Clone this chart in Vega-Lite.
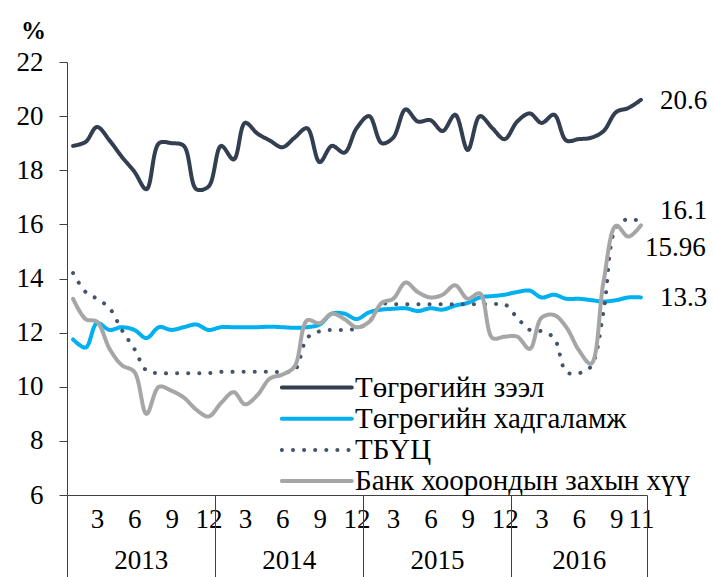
{
  "$schema": "https://vega.github.io/schema/vega-lite/v6.json",
  "width": 580,
  "height": 433,
  "autosize": "none",
  "padding": {"left": 67, "top": 62, "right": 66, "bottom": 82},
  "config": {"view": {"stroke": null}, "font": "Liberation Serif"},
  "data": {"values": [
    {"d":"2013-01-16","Төгрөгийн зээл":18.9,"Төгрөгийн хадгаламж":11.75,"ТБҮЦ":14.2,"Банк хоорондын захын хүү":13.25},
    {"d":"2013-02-16","Төгрөгийн зээл":19.05,"Төгрөгийн хадгаламж":11.45,"ТБҮЦ":13.5,"Банк хоорондын захын хүү":12.5},
    {"d":"2013-03-16","Төгрөгийн зээл":19.6,"Төгрөгийн хадгаламж":12.35,"ТБҮЦ":13.25,"Банк хоорондын захын хүү":12.4},
    {"d":"2013-04-16","Төгрөгийн зээл":19.1,"Төгрөгийн хадгаламж":12.1,"ТБҮЦ":12.9,"Банк хоорондын захын хүү":11.4},
    {"d":"2013-05-16","Төгрөгийн зээл":18.5,"Төгрөгийн хадгаламж":12.2,"ТБҮЦ":12.1,"Банк хоорондын захын хүү":10.8},
    {"d":"2013-06-16","Төгрөгийн зээл":17.95,"Төгрөгийн хадгаламж":12.1,"ТБҮЦ":11.4,"Банк хоорондын захын хүү":10.55},
    {"d":"2013-07-16","Төгрөгийн зээл":17.3,"Төгрөгийн хадгаламж":11.8,"ТБҮЦ":10.6,"Банк хоорондын захын хүү":9.0},
    {"d":"2013-08-16","Төгрөгийн зээл":19.0,"Төгрөгийн хадгаламж":12.2,"ТБҮЦ":10.5,"Банк хоорондын захын хүү":10.0},
    {"d":"2013-09-16","Төгрөгийн зээл":19.0,"Төгрөгийн хадгаламж":12.1,"ТБҮЦ":10.5,"Банк хоорондын захын хүү":9.85},
    {"d":"2013-10-16","Төгрөгийн зээл":18.9,"Төгрөгийн хадгаламж":12.2,"ТБҮЦ":10.5,"Банк хоорондын захын хүү":9.6},
    {"d":"2013-11-16","Төгрөгийн зээл":17.3,"Төгрөгийн хадгаламж":12.3,"ТБҮЦ":10.5,"Банк хоорондын захын хүү":9.15},
    {"d":"2013-12-16","Төгрөгийн зээл":17.4,"Төгрөгийн хадгаламж":12.1,"ТБҮЦ":10.5,"Банк хоорондын захын хүү":8.9},
    {"d":"2014-01-16","Төгрөгийн зээл":18.9,"Төгрөгийн хадгаламж":12.2,"ТБҮЦ":10.55,"Банк хоорондын захын хүү":9.4},
    {"d":"2014-02-16","Төгрөгийн зээл":18.4,"Төгрөгийн хадгаламж":12.2,"ТБҮЦ":10.55,"Банк хоорондын захын хүү":9.8},
    {"d":"2014-03-16","Төгрөгийн зээл":19.75,"Төгрөгийн хадгаламж":12.2,"ТБҮЦ":10.55,"Банк хоорондын захын хүү":9.35},
    {"d":"2014-04-16","Төгрөгийн зээл":19.35,"Төгрөгийн хадгаламж":12.2,"ТБҮЦ":10.55,"Банк хоорондын захын хүү":9.7},
    {"d":"2014-05-16","Төгрөгийн зээл":19.1,"Төгрөгийн хадгаламж":12.22,"ТБҮЦ":10.55,"Банк хоорондын захын хүү":10.3},
    {"d":"2014-06-16","Төгрөгийн зээл":18.85,"Төгрөгийн хадгаламж":12.2,"ТБҮЦ":10.55,"Банк хоорондын захын хүү":10.45},
    {"d":"2014-07-16","Төгрөгийн зээл":19.2,"Төгрөгийн хадгаламж":12.18,"ТБҮЦ":10.6,"Банк хоорондын захын хүү":10.75},
    {"d":"2014-08-16","Төгрөгийн зээл":19.55,"Төгрөгийн хадгаламж":12.2,"ТБҮЦ":11.8,"Банк хоорондын захын хүү":12.45},
    {"d":"2014-09-16","Төгрөгийн зээл":18.3,"Төгрөгийн хадгаламж":12.3,"ТБҮЦ":12.05,"Банк хоорондын захын хүү":12.35},
    {"d":"2014-10-16","Төгрөгийн зээл":18.9,"Төгрөгийн хадгаламж":12.7,"ТБҮЦ":12.1,"Банк хоорондын захын хүү":12.7},
    {"d":"2014-11-16","Төгрөгийн зээл":18.65,"Төгрөгийн хадгаламж":12.7,"ТБҮЦ":12.1,"Банк хоорондын захын хүү":12.5},
    {"d":"2014-12-16","Төгрөгийн зээл":19.55,"Төгрөгийн хадгаламж":12.5,"ТБҮЦ":12.15,"Банк хоорондын захын хүү":12.2},
    {"d":"2015-01-16","Төгрөгийн зээл":20.0,"Төгрөгийн хадгаламж":12.75,"ТБҮЦ":12.4,"Банк хоорондын захын хүү":12.4},
    {"d":"2015-02-16","Төгрөгийн зээл":19.0,"Төгрөгийн хадгаламж":12.85,"ТБҮЦ":13.05,"Банк хоорондын захын хүү":13.1},
    {"d":"2015-03-16","Төгрөгийн зээл":19.2,"Төгрөгийн хадгаламж":12.88,"ТБҮЦ":13.05,"Банк хоорондын захын хүү":13.25},
    {"d":"2015-04-16","Төгрөгийн зээл":20.25,"Төгрөгийн хадгаламж":12.9,"ТБҮЦ":13.05,"Банк хоорондын захын хүү":13.85},
    {"d":"2015-05-16","Төгрөгийн зээл":19.8,"Төгрөгийн хадгаламж":12.8,"ТБҮЦ":13.05,"Банк хоорондын захын хүү":13.5},
    {"d":"2015-06-16","Төгрөгийн зээл":19.85,"Төгрөгийн хадгаламж":12.9,"ТБҮЦ":13.05,"Банк хоорондын захын хүү":13.3},
    {"d":"2015-07-16","Төгрөгийн зээл":19.45,"Төгрөгийн хадгаламж":12.85,"ТБҮЦ":13.05,"Банк хоорондын захын хүү":13.4},
    {"d":"2015-08-16","Төгрөгийн зээл":20.05,"Төгрөгийн хадгаламж":13.0,"ТБҮЦ":13.05,"Банк хоорондын захын хүү":13.75},
    {"d":"2015-09-16","Төгрөгийн зээл":18.75,"Төгрөгийн хадгаламж":13.1,"ТБҮЦ":13.05,"Банк хоорондын захын хүү":13.25},
    {"d":"2015-10-16","Төгрөгийн зээл":20.0,"Төгрөгийн хадгаламж":13.3,"ТБҮЦ":13.05,"Банк хоорондын захын хүү":13.45},
    {"d":"2015-11-16","Төгрөгийн зээл":19.55,"Төгрөгийн хадгаламж":13.35,"ТБҮЦ":13.05,"Банк хоорондын захын хүү":11.8},
    {"d":"2015-12-16","Төгрөгийн зээл":19.15,"Төгрөгийн хадгаламж":13.4,"ТБҮЦ":13.05,"Банк хоорондын захын хүү":11.85},
    {"d":"2016-01-16","Төгрөгийн зээл":19.8,"Төгрөгийн хадгаламж":13.5,"ТБҮЦ":12.55,"Банк хоорондын захын хүү":11.85},
    {"d":"2016-02-16","Төгрөгийн зээл":20.1,"Төгрөгийн хадгаламж":13.55,"ТБҮЦ":12.1,"Банк хоорондын захын хүү":11.4},
    {"d":"2016-03-16","Төгрөгийн зээл":19.75,"Төгрөгийн хадгаламж":13.3,"ТБҮЦ":12.05,"Банк хоорондын захын хүү":12.55},
    {"d":"2016-04-16","Төгрөгийн зээл":20.05,"Төгрөгийн хадгаламж":13.4,"ТБҮЦ":11.8,"Банк хоорондын захын хүү":12.65},
    {"d":"2016-05-16","Төгрөгийн зээл":19.1,"Төгрөгийн хадгаламж":13.25,"ТБҮЦ":10.55,"Банк хоорондын захын хүү":12.2},
    {"d":"2016-06-16","Төгрөгийн зээл":19.15,"Төгрөгийн хадгаламж":13.25,"ТБҮЦ":10.5,"Банк хоорондын захын хүү":11.35},
    {"d":"2016-07-16","Төгрөгийн зээл":19.2,"Төгрөгийн хадгаламж":13.2,"ТБҮЦ":10.75,"Банк хоорондын захын хүү":10.85},
    {"d":"2016-08-16","Төгрөгийн зээл":19.45,"Төгрөгийн хадгаламж":13.15,"ТБҮЦ":12.8,"Банк хоорондын захын хүү":13.9},
    {"d":"2016-09-16","Төгрөгийн зээл":20.15,"Төгрөгийн хадгаламж":13.2,"ТБҮЦ":15.9,"Банк хоорондын захын хүү":15.95},
    {"d":"2016-10-16","Төгрөгийн зээл":20.3,"Төгрөгийн хадгаламж":13.3,"ТБҮЦ":16.2,"Банк хоорондын захын хүү":15.55},
    {"d":"2016-11-16","Төгрөгийн зээл":20.6,"Төгрөгийн хадгаламж":13.3,"ТБҮЦ":16.1,"Банк хоорондын захын хүү":15.96}
  ]},
  "transform": [
    {"fold": ["Төгрөгийн зээл", "Төгрөгийн хадгаламж", "ТБҮЦ", "Банк хоорондын захын хүү"], "as": ["s", "v"]}
  ],
  "encoding": {
    "y": {
      "field": "v", "type": "quantitative",
      "scale": {"domain": [6, 22], "nice": false, "zero": false},
      "axis": {
        "title": "%", "titleAngle": 0, "titleX": -34, "titleY": -32,
        "titleAlign": "center", "titleBaseline": "middle",
        "titleFont": "Liberation Serif", "titleFontSize": 25, "titleFontWeight": "bold", "titleColor": "#000000",
        "values": [6, 8, 10, 12, 14, 16, 18, 20, 22],
        "grid": false, "domainColor": "#404040", "tickColor": "#404040", "tickSize": 8,
        "labelFont": "Liberation Serif", "labelFontSize": 27, "labelColor": "#000000", "labelPadding": 16
      }
    }
  },
  "layer": [
    {
      "mark": {"type": "line", "strokeWidth": 4, "strokeCap": "round", "interpolate": "catmull-rom"},
      "encoding": {
        "x": {
          "field": "d", "type": "temporal",
          "scale": {"type": "utc", "domain": [{"year": 2013, "month": 1, "date": 1, "utc": true}, {"year": 2016, "month": 12, "date": 1, "utc": true}]},
          "axis": {
            "orient": "bottom",
            "title": null, "ticks": false, "grid": false, "domainColor": "#404040",
            "values": [
              {"year": 2013, "month": 3, "date": 16, "utc": true}, {"year": 2013, "month": 6, "date": 16, "utc": true}, {"year": 2013, "month": 9, "date": 16, "utc": true}, {"year": 2013, "month": 12, "date": 16, "utc": true},
              {"year": 2014, "month": 3, "date": 16, "utc": true}, {"year": 2014, "month": 6, "date": 16, "utc": true}, {"year": 2014, "month": 9, "date": 16, "utc": true}, {"year": 2014, "month": 12, "date": 16, "utc": true},
              {"year": 2015, "month": 3, "date": 16, "utc": true}, {"year": 2015, "month": 6, "date": 16, "utc": true}, {"year": 2015, "month": 9, "date": 16, "utc": true}, {"year": 2015, "month": 12, "date": 16, "utc": true},
              {"year": 2016, "month": 3, "date": 16, "utc": true}, {"year": 2016, "month": 6, "date": 16, "utc": true}, {"year": 2016, "month": 9, "date": 16, "utc": true}, {"year": 2016, "month": 11, "date": 16, "utc": true}
            ],
            "labelExpr": "utcFormat(datum.value, '%-m')",
            "labelOverlap": false, "labelFlush": false,
            "labelFont": "Liberation Serif", "labelFontSize": 27, "labelColor": "#000000", "labelPadding": 11
          }
        },
        "color": {
          "field": "s", "type": "nominal",
          "scale": {
            "domain": ["Төгрөгийн зээл", "Төгрөгийн хадгаламж", "ТБҮЦ", "Банк хоорондын захын хүү"],
            "range": ["#333f50", "#00b0f0", "#44546a", "#a6a6a6"]
          },
          "legend": {
            "title": null, "orient": "none", "legendX": 212, "legendY": 311,
            "symbolType": "M-1,0H5", "symbolSize": 544, "symbolStrokeWidth": 4,
            "labelFont": "Liberation Serif", "labelFontSize": 29, "labelColor": "#000000",
            "labelOffset": 47, "rowPadding": 1.2, "labelLimit": 500,
            "encode": {"symbols": {"update": {"strokeCap": {"value": "round"}}}}
          }
        },
        "strokeDash": {
          "field": "s", "type": "nominal",
          "scale": {
            "domain": ["Төгрөгийн зээл", "Төгрөгийн хадгаламж", "ТБҮЦ", "Банк хоорондын захын хүү"],
            "range": [[1, 0], [1, 0], [0.1, 11], [1, 0]]
          },
          "legend": {
            "title": null, "orient": "none", "legendX": 212, "legendY": 311,
            "symbolType": "M-1,0H5", "symbolSize": 544, "symbolStrokeWidth": 4,
            "labelFont": "Liberation Serif", "labelFontSize": 29, "labelColor": "#000000",
            "labelOffset": 47, "rowPadding": 1.2, "labelLimit": 500,
            "encode": {"symbols": {"update": {"strokeCap": {"value": "round"}}}}
          }
        }
      }
    },
    {
      "transform": [
        {"filter": "utcyear(datum.d) == 2016 && utcmonth(datum.d) == 10"},
        {"filter": {"field": "s", "oneOf": ["Төгрөгийн зээл", "Төгрөгийн хадгаламж"]}}
      ],
      "mark": {"type": "text", "align": "left", "baseline": "middle", "dx": 19, "dy": 1, "font": "Liberation Serif", "fontSize": 27, "color": "#000000"},
      "encoding": {
        "x": {
          "field": "d", "type": "temporal",
          "axis": {
            "orient": "bottom",
            "title": null, "labels": false, "domain": false, "grid": false,
            "tickColor": "#404040", "tickSize": 82,
            "values": [
              {"year": 2013, "month": 1, "date": 1, "utc": true}, {"year": 2014, "month": 1, "date": 1, "utc": true},
              {"year": 2015, "month": 1, "date": 1, "utc": true}, {"year": 2016, "month": 1, "date": 1, "utc": true},
              {"year": 2016, "month": 12, "date": 1, "utc": true}
            ]
          }
        },
        "text": {"field": "v", "type": "quantitative"}
      }
    },
    {
      "transform": [
        {"filter": "utcyear(datum.d) == 2016 && utcmonth(datum.d) == 10"},
        {"filter": {"field": "s", "equal": "ТБҮЦ"}}
      ],
      "mark": {"type": "text", "align": "left", "baseline": "middle", "dx": 19, "dy": -11, "font": "Liberation Serif", "fontSize": 27, "color": "#000000"},
      "encoding": {
        "x": {
          "field": "d", "type": "temporal",
          "axis": {
            "orient": "bottom",
            "title": null, "ticks": false, "domain": false, "grid": false,
            "values": [
              {"year": 2013, "month": 7, "date": 2, "utc": true}, {"year": 2014, "month": 7, "date": 2, "utc": true},
              {"year": 2015, "month": 7, "date": 2, "utc": true}, {"year": 2016, "month": 6, "date": 16, "utc": true}
            ],
            "labelExpr": "utcFormat(datum.value, '%Y')",
            "labelOverlap": false, "labelFlush": false,
            "labelFont": "Liberation Serif", "labelFontSize": 27, "labelColor": "#000000", "labelPadding": 52
          }
        },
        "text": {"field": "v", "type": "quantitative"}
      }
    },
    {
      "transform": [
        {"filter": "utcyear(datum.d) == 2016 && utcmonth(datum.d) == 10"},
        {"filter": {"field": "s", "equal": "Банк хоорондын захын хүү"}}
      ],
      "mark": {"type": "text", "align": "left", "baseline": "middle", "dx": 4, "dy": 23, "font": "Liberation Serif", "fontSize": 27, "color": "#000000"},
      "encoding": {
        "x": {"field": "d", "type": "temporal", "axis": null},
        "text": {"field": "v", "type": "quantitative"}
      }
    }
  ],
  "resolve": {"axis": {"x": "independent"}}
}
